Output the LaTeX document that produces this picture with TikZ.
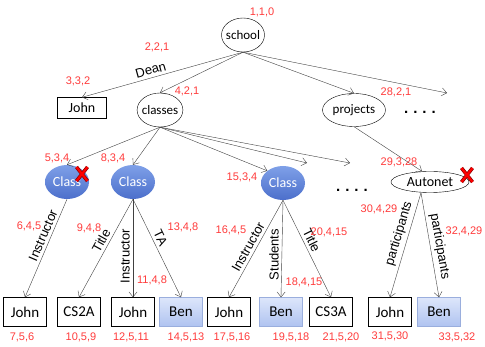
\documentclass[tikz,border=0pt]{standalone}
\usepackage{fontspec}
\setmainfont{Liberation Sans}
\newfontfamily\nodefont{Carlito}
\usetikzlibrary{arrows.meta,positioning,shapes.geometric}
\definecolor{numred}{HTML}{FF3B3B}
\definecolor{edgegray}{HTML}{404040}
\definecolor{classtop}{HTML}{7FA0E8}
\definecolor{classbot}{HTML}{4C6FCB}
\definecolor{bentop}{HTML}{DDE6FB}
\definecolor{benbot}{HTML}{AFC3F0}
\definecolor{benline}{HTML}{9AAEDD}
\definecolor{xdark}{HTML}{8A0000}

\tikzset{
  obj/.style={draw, ellipse, inner xsep=-2pt, inner ysep=0pt, minimum height=34pt, font=\nodefont\fontsize{13}{15}\selectfont},
  cls/.style={ellipse, inner sep=0pt, minimum width=44pt, minimum height=34pt, top color=classtop, bottom color=classbot, text=white, font=\nodefont\fontsize{14}{16}\selectfont},
  val/.style={draw, rectangle, inner sep=0pt, minimum width=43pt, minimum height=29pt, font=\nodefont\fontsize{15}{17}\selectfont},
  hit/.style={val, draw=benline, top color=bentop, bottom color=benbot},
  num/.style={text=numred, inner sep=0pt, font=\fontsize{11}{13}\selectfont},
  lbl/.style={sloped, above, inner sep=3pt, font=\fontsize{13}{15}\selectfont},
  lblup/.style={rotate=90, anchor=south, inner sep=3pt, font=\fontsize{13}{15}\selectfont},
  dots/.style={inner sep=0pt, font=\bfseries\fontsize{15}{17}\selectfont},
  link/.style={draw=edgegray, -{Straight Barb[length=5pt,width=8pt]}},
  failmark/.pic={
    \draw[line width=3.6pt, xdark] (-5.5,-7) -- (5.5,7) (-5.5,7) -- (5.5,-7);
    \draw[line width=2.2pt, red] (-5.5,-7) -- (5.5,7) (-5.5,7) -- (5.5,-7);
  }
}

\begin{document}
\begin{tikzpicture}[x=1pt, y=-1pt]
  \useasboundingbox (0,0) rectangle (485,347);

  % tree nodes
  \node[obj, minimum width=43pt] (school) at (243,35) {school};
  \node[draw, rectangle, inner sep=0pt, minimum width=49pt, minimum height=21pt, font=\nodefont\fontsize{14}{16}\selectfont] (dean) at (82,108) {John};
  \node[obj, minimum width=44pt] (classes) at (160,110) {classes};
  \node[obj, inner xsep=0pt, minimum width=63pt, minimum height=33pt] (projects) at (354,110) {projects};
  \node[dots] (dotsA) at (420,112) {.\,\,.\,\,.\,\,.};

  \node[cls] (c1) at (67,182) {Class};
  \node[cls] (c2) at (133,182) {Class};
  \node[cls] (c3) at (283,183) {Class};
  \node[dots] (dotsB) at (352,190) {.\,\,.\,\,.\,\,.};
  \node[obj, inner xsep=0pt, minimum width=78pt, minimum height=21pt, font=\nodefont\fontsize{14}{16}\selectfont] (autonet) at (430,182) {Autonet};

  \node[val] (j1) at (25,312) {John};
  \node[val] (cs2a) at (79,312) {CS2A};
  \node[val] (j2) at (133,312) {John};
  \node[hit] (b1) at (181,312) {Ben};
  \node[val] (j3) at (229,312) {John};
  \node[hit] (b2) at (281,312) {Ben};
  \node[val] (cs3a) at (331,312) {CS3A};
  \node[val] (j4) at (390,312) {John};
  \node[hit] (b3) at (439,312) {Ben};

  \coordinate (moreA) at (447,93);
  \coordinate (moreB) at (307,163);
  \coordinate (moreC) at (350,163);

  % edges
  \draw[link] (school.south) -- node[lbl, pos=0.56] {Dean} (dean.north);
  \draw[link] (school.south) -- (classes.north);
  \draw[link] (school.south) -- (projects.north);
  \draw[link] (school.south) -- (moreA);

  \draw[link] (classes.south) -- (c1.north);
  \draw[link] (classes.south) -- (c2.north);
  \draw[link] (classes.south) -- (c3.north west);
  \draw[link] (classes.south) -- (moreB);
  \draw[link] (classes.south) -- (moreC);
  \draw[link] (projects.south) -- ([xshift=-8pt]autonet.north);

  \draw[link] (c1.south) -- node[lbl, pos=0.4] {Instructor} (j1.north);
  \draw[link] (c2.south) -- node[lbl, pos=0.46] {Title} (cs2a.north);
  \draw[link] (c2.south) -- node[lblup, pos=0.58] {Instructor} (j2.north);
  \draw[link] (c2.south) -- node[lbl, pos=0.43] {TA} (b1.north);
  \draw[link] (c3.south) -- node[lbl, pos=0.52] {Instructor} (j3.north);
  \draw[link] (c3.south) -- node[lblup, pos=0.56] {Students} (b2.north);
  \draw[link] (c3.south) -- node[lbl, pos=0.45] {Title} (cs3a.north);
  \draw[link] ([xshift=-9pt]autonet.south) -- node[lbl, pos=0.42] {participants} (j4.north);
  \draw[link] ([xshift=-9pt]autonet.south) -- node[lbl, pos=0.53] {participants} (b3.north);

  % pruned subtrees
  \pic at ([shift={(15,-8)}]c1.center) {failmark};
  \pic at ([shift={(37,-7)}]autonet.center) {failmark};

  % visit counters
  \node[num] (n1) at (262,12) {1,1,0};
  \node[num] (n2) at (157,47) {2,2,1};
  \node[num] (n3) at (78,81) {3,3,2};
  \node[num] (n4) at (187,91) {4,2,1};
  \node[num] (n28) at (396,92) {28,2,1};
  \node[num] (n5) at (57,158) {5,3,4};
  \node[num] (n8) at (113,158) {8,3,4};
  \node[num] (n15) at (242,177) {15,3,4};
  \node[num] (n29) at (399,162) {29,3,28};
  \node[num] (n6) at (29,226) {6,4,5};
  \node[num] (n9) at (89,228) {9,4,8};
  \node[num] (n11) at (152,280) {11,4,8};
  \node[num] (n13) at (183,227) {13,4,8};
  \node[num] (n16) at (231,230) {16,4,5};
  \node[num] (n18) at (304,282) {18,4,15};
  \node[num] (n20) at (329,232) {20,4,15};
  \node[num] (n30) at (379,209) {30,4,29};
  \node[num] (n32) at (464,231) {32,4,29};
  \node[num] (n7) at (22,337) {7,5,6};
  \node[num] (n10) at (81,337) {10,5,9};
  \node[num] (n12) at (131,337) {12,5,11};
  \node[num] (n14) at (186,337) {14,5,13};
  \node[num] (n17) at (232,337) {17,5,16};
  \node[num] (n19) at (291,337) {19,5,18};
  \node[num] (n21) at (341,337) {21,5,20};
  \node[num] (n31) at (390,336) {31,5,30};
  \node[num] (n33) at (457,337) {33,5,32};
\end{tikzpicture}
\end{document}
